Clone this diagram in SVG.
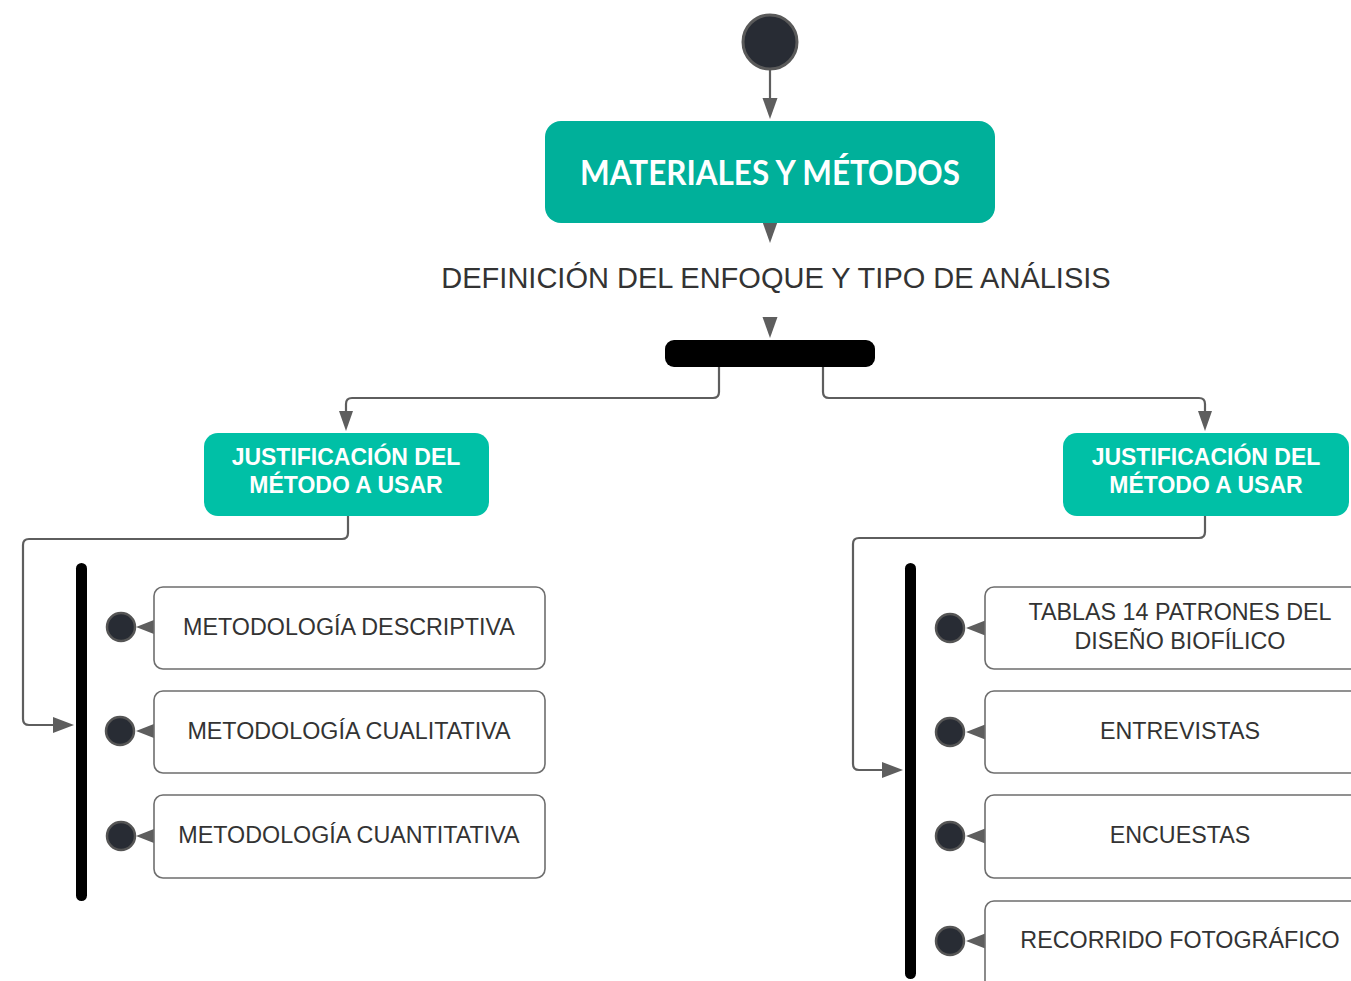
<svg xmlns="http://www.w3.org/2000/svg" width="1351" height="981" viewBox="0 0 1351 981">
<defs>
<style>
.conn{fill:none;stroke:#5e5e5e;stroke-width:2.2;stroke-linejoin:round}
.ah{fill:#5e5e5e}
.start{fill:#282c34;stroke:#5a5a5a;stroke-width:3}
.dot{fill:#282c34;stroke:#555;stroke-width:2.5}
.bar{fill:#000}
.item{fill:#fff;stroke:#6e6e6e;stroke-width:1.6}
.itxt{font-family:"Liberation Sans",Arial,sans-serif;font-size:23.3px;fill:#333;text-anchor:middle}
.jbox{fill:#00c0a6}
.jtxt{font-family:"Liberation Sans",Arial,sans-serif;font-size:23px;font-weight:bold;fill:#fff;text-anchor:middle}
</style>
</defs>

<g id="connectors">
  <line class="conn" x1="770" y1="70" x2="770" y2="100"/>
  <polygon class="ah" points="762.5,98 777.5,98 770,119"/>
  <polygon class="ah" points="762.5,222 777.5,222 770,243"/>
  <polygon class="ah" points="762.5,317 777.5,317 770,338"/>
  <path class="conn" d="M719,367 V392 Q719,398 713,398 H352 Q346,398 346,404 V415"/>
  <polygon class="ah" points="339,411 353,411 346,431"/>
  <path class="conn" d="M823,367 V392 Q823,398 829,398 H1199 Q1205,398 1205,404 V415"/>
  <polygon class="ah" points="1198,411 1212,411 1205,431"/>
  <path class="conn" d="M348,516 V533 Q348,539 342,539 H29 Q23,539 23,545 V719 Q23,725 29,725 H56"/>
  <polygon class="ah" points="53,717 53,733 74,725"/>
  <path class="conn" d="M1205,516 V532 Q1205,538 1199,538 H859 Q853,538 853,544 V764 Q853,770 859,770 H885"/>
  <polygon class="ah" points="882,762 882,778 903,770"/>
  <polygon class="ah" points="159,618 159,636 136,627"/>
  <polygon class="ah" points="159,722 159,740 136,731"/>
  <polygon class="ah" points="159,827 159,845 136,836"/>
  <polygon class="ah" points="989,619 989,637 966,628"/>
  <polygon class="ah" points="989,723 989,741 966,732"/>
  <polygon class="ah" points="989,827 989,845 966,836"/>
  <polygon class="ah" points="989,932 989,950 966,941"/>
</g>

<g id="start">
  <circle class="start" cx="770" cy="42" r="27"/>
</g>

<g id="main">
  <rect x="545" y="121" width="450" height="102" rx="16" fill="#00b09a"/>
  <text x="770" y="185" font-family="Lato,'Open Sans',sans-serif" font-size="34" font-weight="bold" fill="#fff" text-anchor="middle" textLength="380" lengthAdjust="spacingAndGlyphs">MATERIALES Y MÉTODOS</text>
</g>

<g id="definicion">
  <text x="776" y="288" font-family="'Liberation Sans',Arial,sans-serif" font-size="29" fill="#333" text-anchor="middle">DEFINICIÓN DEL ENFOQUE Y TIPO DE ANÁLISIS</text>
</g>

<g id="fork">
  <rect class="bar" x="665" y="340" width="210" height="27" rx="9"/>
</g>

<g id="just-left">
  <rect class="jbox" x="204" y="433" width="285" height="83" rx="14"/>
  <text class="jtxt" x="346" y="465">JUSTIFICACIÓN DEL</text>
  <text class="jtxt" x="346" y="493">MÉTODO A USAR</text>
</g>

<g id="just-right">
  <rect class="jbox" x="1063" y="433" width="286" height="83" rx="14"/>
  <text class="jtxt" x="1206" y="465">JUSTIFICACIÓN DEL</text>
  <text class="jtxt" x="1206" y="493">MÉTODO A USAR</text>
</g>

<g id="bar-left">
  <rect class="bar" x="76" y="563" width="11" height="338" rx="5.5"/>
</g>

<g id="bar-right">
  <rect class="bar" x="905" y="563" width="11" height="416" rx="5.5"/>
</g>

<g id="item-descriptiva">
  <rect class="item" x="154" y="587" width="391" height="82" rx="9"/>
  <circle class="dot" cx="121" cy="627" r="14"/>
  <text class="itxt" x="349" y="635">METODOLOGÍA DESCRIPTIVA</text>
</g>
<g id="item-cualitativa">
  <rect class="item" x="154" y="691" width="391" height="82" rx="9"/>
  <circle class="dot" cx="120" cy="731" r="14"/>
  <text class="itxt" x="349" y="739">METODOLOGÍA CUALITATIVA</text>
</g>
<g id="item-cuantitativa">
  <rect class="item" x="154" y="795" width="391" height="83" rx="9"/>
  <circle class="dot" cx="121" cy="836" r="14"/>
  <text class="itxt" x="349" y="843">METODOLOGÍA CUANTITATIVA</text>
</g>

<g id="item-tablas">
  <rect class="item" x="985" y="587" width="392" height="82" rx="9"/>
  <circle class="dot" cx="950" cy="628" r="14"/>
  <text class="itxt" x="1180" y="620">TABLAS 14 PATRONES DEL</text>
  <text class="itxt" x="1180" y="649">DISEÑO BIOFÍLICO</text>
</g>
<g id="item-entrevistas">
  <rect class="item" x="985" y="691" width="392" height="82" rx="9"/>
  <circle class="dot" cx="950" cy="732" r="14"/>
  <text class="itxt" x="1180" y="739">ENTREVISTAS</text>
</g>
<g id="item-encuestas">
  <rect class="item" x="985" y="795" width="392" height="83" rx="9"/>
  <circle class="dot" cx="950" cy="836" r="14"/>
  <text class="itxt" x="1180" y="843">ENCUESTAS</text>
</g>
<g id="item-recorrido">
  <rect class="item" x="985" y="901" width="392" height="90" rx="9"/>
  <circle class="dot" cx="950" cy="941" r="14"/>
  <text class="itxt" x="1180" y="948">RECORRIDO FOTOGRÁFICO</text>
</g>
</svg>
